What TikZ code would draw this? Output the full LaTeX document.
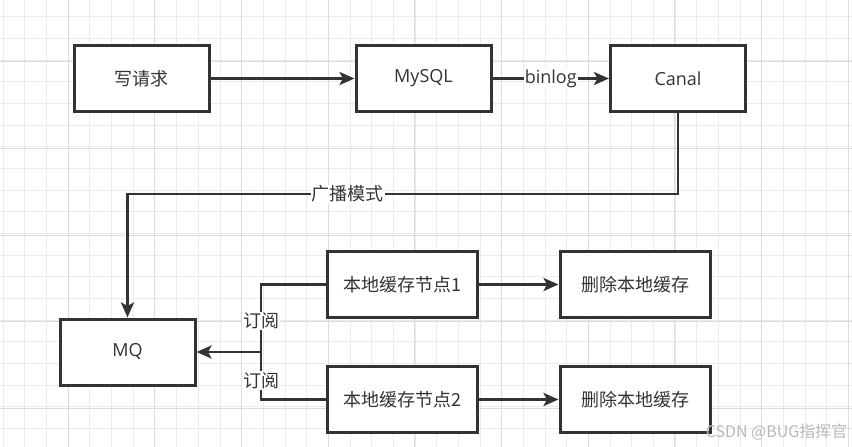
\documentclass[tikz,border=0pt]{standalone}
\usepackage{fontspec}
\setmainfont{Open Sans}
\newfontfamily\cjk{Noto Sans CJK SC}
\usetikzlibrary{arrows.meta,positioning}
\definecolor{ink}{HTML}{333333}
\definecolor{gridminor}{HTML}{EBEBEB}
\definecolor{gridmajor}{HTML}{DCDCDC}

\begin{document}
\begin{tikzpicture}[
  x=1pt, y=-1pt,
  font=\fontsize{18}{20}\selectfont,
  box/.style={draw=ink, fill=white, line width=3pt, text=ink,
              minimum width=135pt, minimum height=66pt, inner sep=0pt},
  wide/.style={box, minimum width=150pt},
  lbl/.style={fill=white, text=ink, inner sep=1pt},
  link/.style={draw=ink, line width=2.8pt},
  >={Stealth[length=15pt,width=13pt,inset=3.5pt]}]
\useasboundingbox (0,0) rectangle (852,447);
% grid paper
\fill[white] (0,0) rectangle (852,447);
\foreach \i in {0,...,39}
  \draw[gridminor, line width=1pt] ({3.3+21.67*\i},0) -- ++(0,447);
\foreach \i in {0,...,20}
  \draw[gridminor, line width=1pt] (0,{16.7+21.67*\i}) -- ++(852,0);
\foreach \i in {0,...,9}
  \draw[gridmajor, line width=1pt] ({68.3+86.67*\i},0) -- ++(0,447);
\foreach \i in {0,...,4}
  \draw[gridmajor, line width=1pt] (0,{61.7+86.67*\i}) -- ++(852,0);

\node[box] (req) at (141.5,78.5) {\cjk 写请求};
\node[box] (mysql) at (423.5,78.5) {MySQL};
\node[box] (canal) at (678,78.5) {Canal};
\node[box] (mq) at (127.5,352) {MQ};
\node[wide] (node1) at (402,284.5) {\cjk 本地缓存节点1};
\node[wide] (node2) at (402,399.5) {\cjk 本地缓存节点2};
\node[wide, right=80pt of node1] (del1) {\cjk 删除本地缓存};
\node[wide, right=80pt of node2] (del2) {\cjk 删除本地缓存};

\draw[link, ->] (req) -- (mysql);
\draw[link, ->] (mysql) -- node[lbl] {binlog} (canal);

% broadcast down to the queue
\coordinate (bar) at (0,194);
\draw[link, ->] (canal.south) -- (canal.south |- bar)
  -- node[lbl, pos=0.6] {\cjk 广播模式} (mq.north |- bar) -- (mq.north);

% subscriptions
\coordinate (hub) at (261,352);
\draw[link] (node1.west) -| node[lbl, pos=0.77] {\cjk 订阅} (hub);
\draw[link] (node2.west) -| node[lbl, pos=0.70] {\cjk 订阅} (hub);
\draw[link, ->] (hub) -- (mq.east);

\draw[link, ->] (node1) -- (del1);
\draw[link, ->] (node2) -- (del2);

\node[anchor=east, text=gray!55, font=\cjk\fontsize{16}{18}\selectfont]
  (mark) at (851,432) {CSDN @BUG指挥官};
\end{tikzpicture}
\end{document}
